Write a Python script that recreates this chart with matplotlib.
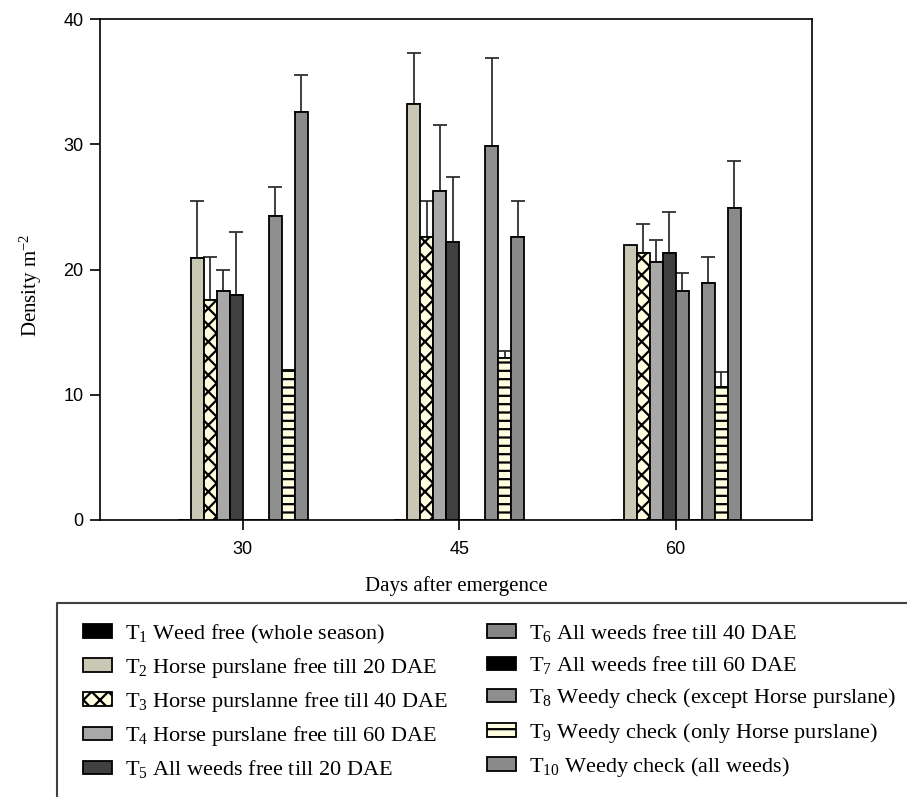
import numpy as np
import matplotlib
matplotlib.use("Agg")
import matplotlib.pyplot as plt
from matplotlib.lines import Line2D

plt.rcParams['mathtext.fontset'] = 'custom'
plt.rcParams['mathtext.rm'] = 'Liberation Serif'
plt.rcParams['mathtext.it'] = 'Liberation Serif:italic'
plt.rcParams['hatch.linewidth'] = 1.6

# ---- data ----
groups = ['30', '45', '60']
labels = [
    'T$_1$ Weed free (whole season)',
    'T$_2$ Horse purslane free till 20 DAE',
    'T$_3$ Horse purslanne free till 40 DAE',
    'T$_4$ Horse purslane free till 60 DAE',
    'T$_5$ All weeds free till 20 DAE',
    'T$_6$ All weeds free till 40 DAE',
    'T$_7$ All weeds free till 60 DAE',
    'T$_8$ Weedy check (except Horse purslane)',
    'T$_9$ Weedy check (only Horse purslane)',
    'T$_{10}$ Weedy check (all weeds)',
]
T1 = [0, 0, 0]
T2 = [20.9, 33.25, 21.95]
T3 = [17.6, 22.6, 21.3]
T4 = [18.3, 26.25, 20.6]
T5 = [17.95, 22.2, 21.3]
T6 = [0, 0, 18.3]
T7 = [0, 0, 0]
T8 = [24.3, 29.9, 18.95]
T9 = [12.0, 12.95, 10.6]
T10 = [32.6, 22.6, 24.9]

E1 = [0, 0, 0]
E2 = [4.6, 4.05, 0]
E3 = [3.4, 2.9, 2.35]
E4 = [1.65, 5.25, 1.75]
E5 = [5.05, 5.2, 3.3]
E6 = [0, 0, 1.4]
E7 = [0, 0, 0]
E8 = [2.3, 7.0, 2.05]
E9 = [0, 0.55, 1.2]
E10 = [2.9, 2.9, 3.8]

series = [T1, T2, T3, T4, T5, T6, T7, T8, T9, T10]
errors = [E1, E2, E3, E4, E5, E6, E7, E8, E9, E10]

# ---- styles ----
faces = ['#000000', '#c8c8b4', '#fffde0', '#a8a8a8', '#404040',
         '#858585', '#000000', '#8e8e8e', '#fffde0', '#8a8a8a']
hatches = [None, None, 'xx', None, None, None, None, None, '--', None]

fig = plt.figure(figsize=(9.07, 7.97), dpi=100)
W, H = 907, 797
ax = fig.add_axes([100 / W, 1 - 520 / H, 712 / W, 501 / H])

x = np.arange(len(groups))
w = 0.06
handles = []
for i, (vals, errs) in enumerate(zip(series, errors)):
    vals = np.array(vals, dtype=float)
    errs = np.array(errs, dtype=float)
    left = x + (i - 5) * w
    b = ax.bar(left, vals, w, align='edge', color=faces[i], edgecolor='black',
               linewidth=1.3, hatch=hatches[i], label=labels[i], zorder=3)
    handles.append(b)
    m = errs > 0
    if m.any():
        ax.errorbar(left[m] + w / 2, vals[m], yerr=[np.zeros(m.sum()), errs[m]],
                    fmt='none', ecolor='#303030', elinewidth=1.3, capsize=4.7,
                    capthick=1.3, zorder=2)

ax.set_xlim(-0.66, 2.63)
ax.set_ylim(0, 40)
ax.set_xticks(x)
ax.set_xticklabels(groups)
ax.set_yticks([0, 10, 20, 30, 40])
for s in ax.spines.values():
    s.set_linewidth(1.2)
ax.tick_params(axis='both', direction='out', length=7, width=1.2,
               labelsize=13)
ax.tick_params(axis='x', pad=8)
ax.tick_params(axis='y', pad=5)
for t in ax.get_xticklabels() + ax.get_yticklabels():
    t.set_fontfamily('Liberation Sans')

ax.set_xlabel('Days after emergence', fontfamily='Liberation Serif',
              fontsize=15)
ax.xaxis.set_label_coords(0.5, -(576 - 520) / 501)
ax.set_ylabel('Density m$^{-2}$', fontfamily='Liberation Serif', fontsize=15)
ax.yaxis.set_label_coords(-(100 - 44) / 712, (520 - 285) / 501)

leg = fig.legend(handles=handles, labels=labels, ncol=2, frameon=False,
                 loc='upper left', bbox_to_anchor=(83 / W, 1 - 622 / H),
                 borderaxespad=0, borderpad=0,
                 prop={'family': 'Liberation Serif', 'size': 16},
                 handlelength=1.3, handleheight=0.55, handletextpad=0.6,
                 labelspacing=0.46, columnspacing=1.75)

# legend frame (clipped by figure edge)
fig.add_artist(Line2D([57 / W, 57 / W, 1.0], [0.0, 1 - 603 / H, 1 - 603 / H],
                      transform=fig.transFigure, color='#404040', lw=1.5))

fig.savefig('out.png', dpi=100)
